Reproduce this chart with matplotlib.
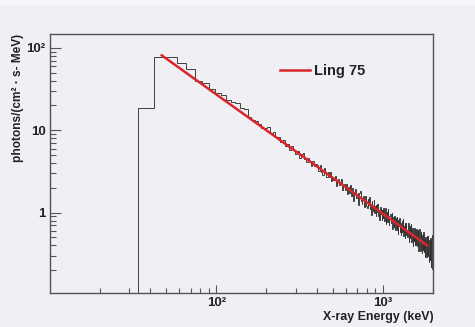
import numpy as np
import matplotlib
matplotlib.use("Agg")
import matplotlib.pyplot as plt
from matplotlib.ticker import FixedLocator, LogLocator, FuncFormatter, NullFormatter

plt.rcParams['font.family'] = ['Liberation Sans', 'DejaVu Sans']
plt.rcParams['font.weight'] = 'bold'

# ---------------- data ----------------
bin_start_kev = 34.0
bin_width_kev = 8.0
flux = [
    18.4, 77, 77, 66, 56,
    40, 37, 32, 28.5, 26.5, 23.2, 22, 21.5, 18.4, 18.2, 14.6, 13.4, 12.8, 11.8, 10.6, 10.5, 10.8, 9.3, 9.6,
    8.32, 8.24, 7.18, 7.64, 6.42, 6.73, 5.78, 6.50, 5.72, 5.18, 5.67, 4.65, 5.18, 5.24, 4.42, 4.09, 4.57, 4.21, 3.64, 4.23, 3.69, 3.85,
    3.81, 3.21, 3.74, 3.14, 2.83, 3.52, 3.06, 2.68, 3.14, 2.67, 3.13, 2.41, 2.70, 2.49, 2.81, 2.12, 2.52, 2.58, 2.16, 2.22, 2.53, 1.90, 2.15, 2.24, 1.87,
    2.21, 1.70, 2.02, 1.75, 2.15, 1.61, 1.75, 1.98, 1.39, 1.76, 1.92, 1.49, 1.55, 1.74, 1.23, 1.72, 1.81, 1.39, 1.29, 1.49, 1.61, 1.18, 1.39, 1.60, 1.21,
    1.13, 1.45, 1.24, 1.54, 1.11, 1.28, 0.93, 1.38, 1.16, 1.06, 1.43, 0.99, 1.20, 0.90, 1.24, 1.01, 1.27, 0.91, 1.05, 0.81, 1.18, 0.95, 1.08, 0.81, 1.08,
    0.87, 1.13, 0.79, 0.98, 1.13, 0.73, 0.88, 1.01, 0.77, 1.10, 0.80, 0.70, 0.92, 0.97, 0.74, 0.79, 0.99, 0.63, 0.83, 0.88, 0.67, 0.91, 0.71, 0.61, 0.86,
    0.78, 0.61, 0.88, 0.65, 0.55, 0.81, 0.69, 0.87, 0.59, 0.70, 0.54, 0.74, 0.79, 0.59, 0.61, 0.83, 0.52, 0.68, 0.58, 0.74, 0.49, 0.62, 0.75, 0.53, 0.58,
    0.50, 0.68, 0.54, 0.74, 0.44, 0.59, 0.68, 0.49, 0.54, 0.73, 0.44, 0.60, 0.49, 0.66, 0.39, 0.60, 0.52, 0.45, 0.65, 0.49, 0.40, 0.60, 0.53, 0.41, 0.64,
    0.55, 0.39, 0.61, 0.44, 0.34, 0.57, 0.45, 0.63, 0.39, 0.48, 0.34, 0.53, 0.59, 0.39, 0.42, 0.32, 0.54, 0.47, 0.35, 0.59, 0.38, 0.33, 0.48, 0.42, 0.29,
    0.50, 0.34, 0.43, 0.29, 0.52, 0.37, 0.30, 0.46, 0.35, 0.52, 0.31, 0.39, 0.25, 0.47, 0.36, 0.27, 0.49, 0.32, 0.41, 0.22, 0.46, 0.29, 0.53, 0.21, 0.41,
]

fit_energy = [47.0, 1850.0]
fit_flux = [81.0, 0.40]
fit_label = "Ling 75"

x_tick_values = [100, 1000]
x_tick_labels = ["10\u00b2", "10\u00b3"]
y_tick_values = [1, 10, 100]
y_tick_labels = ["1", "10", "10\u00b2"]

x_title = "X-ray Energy (keV)"
y_title = "photons/(cm\u00b2 \u00b7 s- MeV)"

# ---------------- figure ----------------
bg = "#efeff4"
fig = plt.figure(figsize=(4.75, 3.27), dpi=100, facecolor=bg)
ax = fig.add_axes([0.105, 0.104, 0.807, 0.792])
ax.set_facecolor(bg)

# thin light strip at top of the image
fig.patches.append(plt.Rectangle((0, 0.985), 1, 0.015, transform=fig.transFigure,
                                 facecolor="#f7f7f9", edgecolor="none", zorder=0))

edges = bin_start_kev + bin_width_kev * np.arange(len(flux) + 1)
ax.stairs(flux, edges, baseline=1e-3, color="#333333", linewidth=0.65, zorder=2)

red = "#d8262b"
ax.plot(fit_energy, fit_flux, color=red, linewidth=1.8, zorder=3, label=fit_label)

ax.set_xscale("log")
ax.set_yscale("log")
ax.set_xlim(10, 2010)
ax.set_ylim(0.106, 147)

spine_c = "#555555"
for s in ax.spines.values():
    s.set_color(spine_c)
    s.set_linewidth(1.0)

ax.xaxis.set_major_locator(FixedLocator(x_tick_values))
ax.xaxis.set_major_formatter(FuncFormatter(lambda v, p: x_tick_labels[x_tick_values.index(int(round(v)))] if int(round(v)) in x_tick_values else ""))
ax.xaxis.set_minor_locator(LogLocator(base=10, subs=np.arange(2, 10)))
ax.xaxis.set_minor_formatter(NullFormatter())

ax.yaxis.set_major_locator(FixedLocator(y_tick_values))
ax.yaxis.set_major_formatter(FuncFormatter(lambda v, p: y_tick_labels[y_tick_values.index(int(round(v)))] if int(round(v)) in y_tick_values else ""))
ax.yaxis.set_minor_locator(LogLocator(base=10, subs=np.arange(2, 10)))
ax.yaxis.set_minor_formatter(NullFormatter())

ax.tick_params(axis="x", which="major", direction="in", length=6, width=0.8, color=spine_c,
               pad=3, labelsize=9.5, top=False)
ax.tick_params(axis="x", which="minor", direction="in", length=3.5, width=0.8, color=spine_c, top=False)
ax.tick_params(axis="y", which="major", direction="in", length=8, width=0.8, color=spine_c,
               pad=3, labelsize=9.5, right=False)
ax.tick_params(axis="y", which="minor", direction="in", length=4.3, width=0.8, color=spine_c, right=False)
for lbl in ax.get_xticklabels() + ax.get_yticklabels():
    lbl.set_fontweight("bold")
    lbl.set_color("#222222")

ax.set_xlabel(x_title, fontsize=8.9, fontweight="bold", color="#222222", ha="right")
ax.xaxis.set_label_coords(1.0, -0.068)
ax.set_ylabel(y_title, fontsize=8.6, fontweight="bold", color="#222222", ha="right")
ax.yaxis.set_label_coords(-0.068, 1.0)

leg = ax.legend(loc="upper left", bbox_to_anchor=(0.565, 0.935), frameon=False,
                prop={"weight": "bold", "size": 10.5}, handlelength=2.1, handletextpad=0.25)
for t in leg.get_texts():
    t.set_color("#222222")

fig.savefig("out.png", dpi=100, facecolor=bg)
